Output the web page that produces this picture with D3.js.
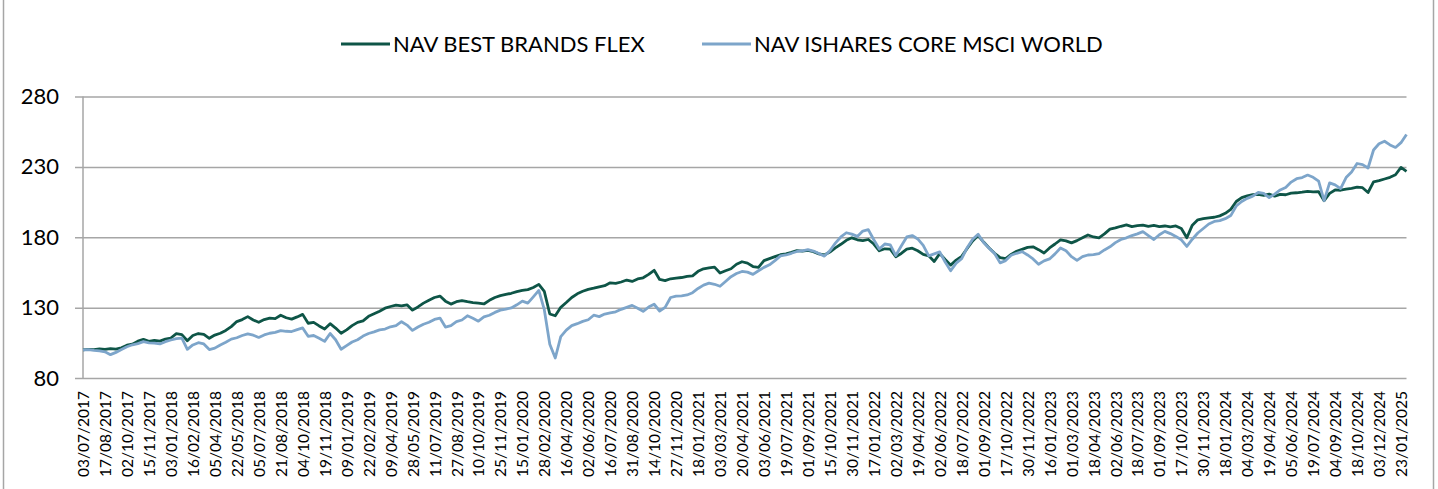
<!DOCTYPE html>
<html>
<head>
<meta charset="utf-8">
<script src="https://cdn.jsdelivr.net/npm/d3@7"></script>
<style>
  html, body { margin: 0; padding: 0; background: #fff; }
  svg { display: block; font-family: Lato, "Open Sans", sans-serif; }
</style>
</head>
<body>
<svg id="chart" width="1438" height="489"></svg>
<script>
/* global d3 */

// category labels on the x axis (every 32nd trading day)
const labels = [
  '03/07/2017', '17/08/2017', '02/10/2017', '15/11/2017', '03/01/2018', '16/02/2018',
  '05/04/2018', '22/05/2018', '05/07/2018', '21/08/2018', '04/10/2018', '19/11/2018',
  '09/01/2019', '22/02/2019', '09/04/2019', '28/05/2019', '11/07/2019', '27/08/2019',
  '10/10/2019', '25/11/2019', '15/01/2020', '28/02/2020', '16/04/2020', '02/06/2020',
  '16/07/2020', '31/08/2020', '14/10/2020', '27/11/2020', '18/01/2021', '03/03/2021',
  '20/04/2021', '03/06/2021', '19/07/2021', '01/09/2021', '15/10/2021', '30/11/2021',
  '17/01/2022', '02/03/2022', '19/04/2022', '02/06/2022', '18/07/2022', '01/09/2022',
  '17/10/2022', '30/11/2022', '16/01/2023', '01/03/2023', '18/04/2023', '02/06/2023',
  '18/07/2023', '01/09/2023', '17/10/2023', '30/11/2023', '18/01/2024', '04/03/2024',
  '19/04/2024', '05/06/2024', '19/07/2024', '04/09/2024', '18/10/2024', '03/12/2024',
  '23/01/2025',
];

// NAV readings, four per label interval (8 trading days apart)
const flex = [
  100, 100.3, 100.2, 100.6, 100.4, 100.8, 100.5, 101.5, 103.3, 104,
  106.2, 107.5, 106, 106.8, 106.2, 107.6, 108.4, 111.5, 110.8, 106.5,
  110.2, 111.6, 111, 108.2, 110.5, 111.8, 113.8, 116.5, 120.1, 121.5,
  123.6, 121.2, 119.6, 121.5, 122.5, 122.2, 124.6, 122.8, 121.8, 123.4,
  125.2, 118.9, 119.5, 117, 114.8, 118.6, 115.5, 111.8, 114.2, 117.2,
  119.5, 120.6, 123.8, 125.6, 127.5, 129.6, 130.8, 131.8, 131.2, 132,
  128.2, 130.5, 133.2, 135.3, 137.2, 138.2, 134.6, 132.5, 134.2, 135,
  134.2, 133.6, 133.2, 132.6, 135.2, 137.2, 138.5, 139.4, 140.2, 141.4,
  142.3, 142.8, 144.3, 146.5, 141.5, 125.5, 124.2, 130.2, 133.6, 137.2,
  139.8, 141.6, 143, 143.8, 144.8, 145.6, 147.6, 147.2, 148.2, 149.6,
  148.6, 150.4, 151.2, 153.6, 156.5, 150, 149.2, 150.5, 151, 151.4,
  152.2, 152.6, 155.8, 157.6, 158.2, 158.8, 154.6, 156.2, 157.6, 160.8,
  162.6, 161.6, 159.2, 158.6, 163.4, 164.8, 166.2, 167.6, 168.2, 169.2,
  170.5, 170.2, 170.6, 169.8, 168.2, 167.4, 169.5, 172.5, 175, 177.8,
  179.6, 178.2, 177.6, 178.4, 175.2, 170.4, 171.8, 171.5, 166.2, 168.5,
  171.6, 172.2, 170.4, 167.8, 166.8, 162.8, 168.4, 164.2, 160.2, 163.8,
  166.4, 172, 177.4, 181.2, 176.6, 172.4, 168.6, 165.6, 164.8, 167.8,
  170, 171.4, 172.8, 173.2, 171.2, 168.8, 172.4, 175.2, 178.2, 177.4,
  176, 177.6, 179.6, 181.6, 180.2, 179.6, 182.4, 185.8, 186.6, 187.8,
  188.8, 187.6, 188.2, 188.6, 187.8, 188.4, 187.6, 188, 187.4, 188,
  186.2, 179.6, 188.6, 192.4, 193.2, 193.8, 194.2, 195.2, 197, 199.8,
  205.4, 208.2, 209.4, 210.2, 210.4, 209.8, 210.6, 209.2, 210.4, 210.2,
  211.4, 211.6, 212, 212.6, 212.2, 212.4, 206, 211.2, 213.6, 213.4,
  214.2, 214.8, 215.6, 215.2, 211.8, 219.4, 220.2, 221.4, 222.6, 224.4,
  229.6, 226.8,
];

const msci = [
  100, 100.2, 99.6, 99.2, 98.6, 96.6, 98.2, 100.2, 102.2, 103.6,
  104.4, 105.8, 105, 104.8, 104.2, 105.8, 107, 108, 108.4, 100.4,
  103.5, 105.1, 104.2, 100.2, 101.2, 103.5, 105.4, 107.6, 108.6, 110.2,
  111.4, 110.4, 108.8, 110.6, 111.8, 112.4, 113.7, 113.2, 113, 114.4,
  115.6, 109.6, 110.2, 108.2, 106, 111.6, 107.2, 100.4, 103, 105.6,
  107.2, 109.8, 111.6, 112.8, 114.2, 114.8, 116.4, 117.2, 120, 117.6,
  113.8, 116.2, 118.2, 119.6, 121.6, 122.6, 116.2, 117.2, 120, 121.2,
  124.2, 122.4, 120.4, 123.4, 124.6, 126.6, 128.2, 129, 129.8, 132,
  134.6, 133.2, 137.6, 142.2, 128.5, 104, 94.2, 109.4, 114, 117.2,
  118.6, 120.2, 121.4, 124.6, 123.6, 125.4, 126.2, 127, 128.8, 130.2,
  131.6, 129.6, 127.4, 130.4, 132.4, 127.6, 130.2, 137.2, 138.2, 138.4,
  139, 140.6, 143.6, 146, 147.4, 146.6, 145.2, 148.6, 152, 154.2,
  155.7, 155.2, 153.6, 156.2, 158.6, 160.4, 163.4, 166.8, 167.4, 168.6,
  169.9, 170.4, 171.2, 170.2, 168.4, 166.6, 170.4, 175.8, 180.2, 183.2,
  182.2, 180.6, 184.4, 185.4, 178.2, 171.6, 175.2, 174.6, 167, 173.8,
  180.2, 181.2, 178.8, 174.2, 166.8, 168.2, 169.6, 162.4, 156.2, 161.6,
  164.8, 172.6, 178.6, 182.2, 176.2, 172.2, 168.4, 161.8, 163.4, 167.2,
  168.6, 169.8, 167.4, 164.6, 160.8, 163.2, 164.6, 168.2, 172.4, 170.4,
  166.2, 163.6, 166.2, 167.4, 167.6, 168.4, 171, 173.2, 176.2, 178.4,
  179.6, 181.2, 182.4, 184, 181.2, 178.4, 181.8, 184.2, 182.6, 180.6,
  178.2, 173.5, 178.6, 183, 186.2, 189.4, 191.2, 191.8, 193.2, 195.4,
  202.2, 205.4, 207.6, 209.2, 211.8, 211.2, 208.2, 210.6, 213.6, 215.4,
  219.2, 221.6, 222.4, 224.2, 222.6, 219.8, 206, 218.6, 217.2, 214.6,
  222.4, 226.4, 232.4, 231.6, 229.2, 242, 246.4, 248.2, 245.6, 243.8,
  247.2, 253,
];

const seriesNames = ['NAV BEST BRANDS FLEX', 'NAV ISHARES CORE MSCI WORLD'];
const yTicks = [80, 130, 180, 230, 280];

const COLORS = {
  flex: '#0e5547',
  msci: '#7da5ca',
  grid: '#a6a6a6',
  frame: '#a6a6a6',
  text: '#000000',
};

const PER_LABEL = 4;

const svg = d3.select('#chart');

const x = d3.scaleLinear().domain([0, labels.length - 1]).range([83, 1401]);
const y = d3.scaleLinear().domain([80, 280]).range([378, 96.5]);

const xEnd = x((flex.length - 1) / PER_LABEL);

// outer chart frame (top and bottom fall outside the picture)
svg.append('rect')
  .attr('x', 3.5)
  .attr('y', -10)
  .attr('width', 1430)
  .attr('height', 510)
  .attr('fill', 'none')
  .attr('stroke', COLORS.frame)
  .attr('stroke-width', 1.5);

// y axis with gridlines
const yAxis = svg.append('g')
  .attr('transform', 'translate(75,0)')
  .call(
    d3.axisLeft(y)
      .tickValues(yTicks)
      .tickSize(-(xEnd - 75))
      .tickPadding(16)
  );
yAxis.select('.domain').remove();
yAxis.selectAll('.tick line')
  .attr('stroke', COLORS.grid)
  .attr('stroke-width', 1.5);
yAxis.selectAll('.tick text')
  .attr('font-size', 22)
  .attr('font-family', 'Lato, sans-serif')
  .attr('fill', COLORS.text);

// vertical axis line
svg.append('line')
  .attr('x1', x(0))
  .attr('x2', x(0))
  .attr('y1', y(280))
  .attr('y2', y(80))
  .attr('stroke', COLORS.grid)
  .attr('stroke-width', 1.5);

// x axis labels, rotated
const xAxis = svg.append('g')
  .attr('transform', `translate(0,${y(80)})`)
  .call(
    d3.axisBottom(x)
      .tickValues(d3.range(labels.length))
      .tickFormat((i) => labels[i])
      .tickSize(0)
  );
xAxis.select('.domain').remove();
xAxis.selectAll('.tick text')
  .attr('transform', 'rotate(-90)')
  .attr('text-anchor', 'end')
  .attr('x', -13)
  .attr('y', 0)
  .attr('dy', '0.36em')
  .attr('font-size', 15.5)
  .attr('font-family', 'Lato, sans-serif')
  .attr('fill', COLORS.text);

// lines
const line = d3.line()
  .x((d, i) => x(i / PER_LABEL))
  .y((d) => y(d));

svg.append('path')
  .datum(flex)
  .attr('fill', 'none')
  .attr('stroke', COLORS.flex)
  .attr('stroke-width', 2.8)
  .attr('stroke-linejoin', 'round')
  .attr('d', line);

svg.append('path')
  .datum(msci)
  .attr('fill', 'none')
  .attr('stroke', COLORS.msci)
  .attr('stroke-width', 2.8)
  .attr('stroke-linejoin', 'round')
  .attr('d', line);

// legend
const legendItems = [
  { name: seriesNames[0], color: COLORS.flex, x: 341 },
  { name: seriesNames[1], color: COLORS.msci, x: 702 },
];

const legend = svg.append('g')
  .selectAll('g')
  .data(legendItems)
  .join('g')
  .attr('transform', (d) => `translate(${d.x},44)`);

legend.append('line')
  .attr('x1', 0)
  .attr('x2', 49)
  .attr('stroke', (d) => d.color)
  .attr('stroke-width', 3);

legend.append('text')
  .attr('x', 52)
  .attr('dy', '0.36em')
  .attr('font-size', 22)
  .attr('fill', COLORS.text)
  .text((d) => d.name);
</script>
</body>
</html>
